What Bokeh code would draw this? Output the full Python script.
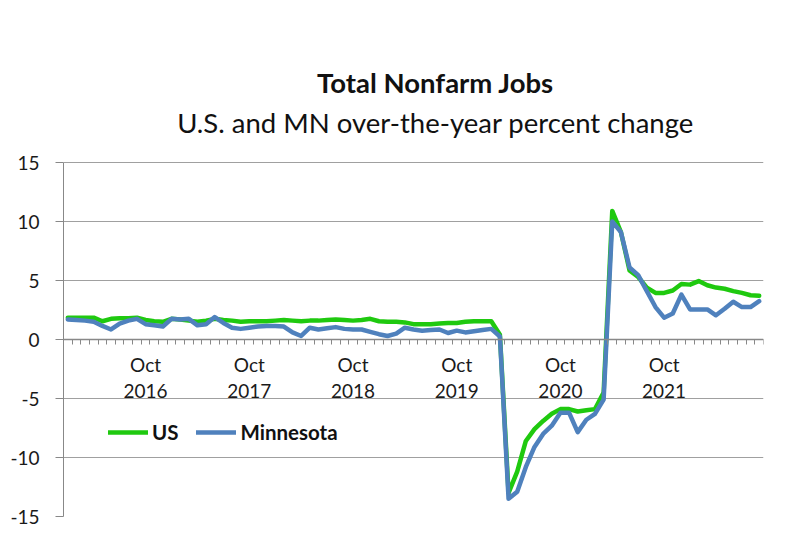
from bokeh.plotting import figure
from bokeh.models import (Range1d, LinearAxis, FixedTicker, Label, Legend, LegendItem, Grid)
from bokeh.embed import file_html
from bokeh.resources import INLINE

# ---------------- data ----------------
months = [f"{y}-{m:02d}" for y in range(2016, 2023) for m in range(1, 13)][:81]

us = [1.85, 1.85, 1.85, 1.85, 1.55, 1.75, 1.8, 1.8, 1.85, 1.65, 1.55, 1.5,
      1.75, 1.7, 1.6, 1.5, 1.6, 1.75, 1.65, 1.6, 1.5, 1.55, 1.55, 1.55,
      1.6, 1.65, 1.6, 1.55, 1.6, 1.6, 1.65, 1.7, 1.65, 1.6, 1.65, 1.75,
      1.55, 1.5, 1.5, 1.45, 1.3, 1.3, 1.3, 1.35, 1.4, 1.4, 1.5, 1.55,
      1.55, 1.55, 0.4, -13.0, -11.2, -8.6, -7.6, -6.9, -6.3, -5.9, -5.9, -6.1,
      -6.0, -5.9, -4.5, 10.9, 9.1, 5.85, 5.3, 4.4, 3.95, 3.95, 4.15, 4.7,
      4.65, 4.95, 4.6, 4.4, 4.3, 4.1, 3.95, 3.75, 3.7]

mn = [1.7, 1.65, 1.6, 1.5, 1.15, 0.85, 1.35, 1.6, 1.75, 1.3, 1.2, 1.1,
      1.75, 1.7, 1.75, 1.2, 1.3, 1.9, 1.4, 1.0, 0.9, 1.0, 1.1, 1.15,
      1.15, 1.1, 0.6, 0.3, 1.0, 0.85, 0.95, 1.05, 0.9, 0.85, 0.85, 0.65,
      0.45, 0.3, 0.5, 1.0, 0.85, 0.75, 0.8, 0.85, 0.55, 0.75, 0.6, 0.7,
      0.8, 0.9, 0.25, -13.5, -12.9, -10.8, -9.1, -8.0, -7.3, -6.2, -6.2, -7.85,
      -6.8, -6.3, -5.1, 10.0, 9.1, 6.1, 5.45, 4.1, 2.75, 1.85, 2.2, 3.8,
      2.55, 2.55, 2.55, 2.05, 2.6, 3.2, 2.75, 2.75, 3.25]

tick_months = ["2016-10", "2017-10", "2018-10", "2019-10", "2020-10", "2021-10"]
tick_labels = ["Oct\n2016", "Oct\n2017", "Oct\n2018", "Oct\n2019", "Oct\n2020", "Oct\n2021"]

y_ticks = [-15, -10, -5, 0, 5, 10, 15]
y_tick_labels = ["-15", "-10", "-5", "0", "5", "10", "15"]

title_text = "Total Nonfarm Jobs"
subtitle_text = "U.S. and MN over-the-year percent change"
series_names = ["US", "Minnesota"]

# ---------------- styling / layout ----------------
FONT = "Lato"
GREEN = "#1fc90f"
BLUE = "#4f81bd"
GRAY = "#a0a0a0"
AXIS = "#888888"

Y_MIN, Y_MAX = y_ticks[0], y_ticks[-1]
AXIS_TOP_PX = 162        # page y of the top of the value axis
AXIS_BOTTOM_PX = 516     # page y of the bottom of the value axis
px_per_unit = (AXIS_BOTTOM_PX - AXIS_TOP_PX) / (Y_MAX - Y_MIN)
# frame extends to the top of the canvas so the titles can live inside it
y_top = Y_MAX + AXIS_TOP_PX / px_per_unit

x = list(range(len(months)))
tick_x = [months.index(m) for m in tick_months]

p = figure(width=784, height=532,
           x_range=Range1d(-0.5, len(months) - 0.5),
           y_range=Range1d(Y_MIN, y_top),
           output_backend="svg", toolbar_location=None,
           x_axis_location=None, y_axis_location=None,
           title=None,
           min_border_left=63, min_border_right=21,
           min_border_top=0, min_border_bottom=16)
p.outline_line_color = None
p.background_fill_color = "white"
p.border_fill_color = "white"
for gr in p.grid:
    gr.visible = False

# y axis
yaxis = LinearAxis(ticker=FixedTicker(ticks=y_ticks, minor_ticks=[]),
                   bounds=(Y_MIN, Y_MAX),
                   major_label_overrides={v: s for v, s in zip(y_ticks, y_tick_labels)})
yaxis.axis_line_color = AXIS
yaxis.major_tick_line_color = AXIS
yaxis.major_tick_out = 8
yaxis.major_tick_in = 0
yaxis.major_label_standoff = 16
yaxis.major_label_text_font = FONT
yaxis.major_label_text_font_size = "19px"
yaxis.major_label_text_color = "#1a1a1a"
p.add_layout(yaxis, "left")

p.add_layout(Grid(dimension=1, ticker=yaxis.ticker, grid_line_color=GRAY, grid_line_width=1))

# series
g = p.line(x, us, line_color=GREEN, line_width=4.5, line_join="round", line_cap="round")
b = p.line(x, mn, line_color=BLUE, line_width=4.5, line_join="round", line_cap="round")

# x axis crossing at zero
xaxis = LinearAxis(fixed_location=0,
                   ticker=FixedTicker(ticks=tick_x,
                                      minor_ticks=[i - 0.5 for i in range(len(months) + 1)]),
                   major_label_overrides={t: s for t, s in zip(tick_x, tick_labels)})
xaxis.axis_line_color = AXIS
xaxis.axis_line_width = 1.5
xaxis.major_tick_line_color = None
xaxis.major_tick_out = 0
xaxis.major_tick_in = 0
xaxis.minor_tick_line_color = AXIS
xaxis.minor_tick_out = 5
xaxis.minor_tick_in = 0
xaxis.major_label_standoff = 8
xaxis.major_label_text_font = FONT
xaxis.major_label_text_font_size = "19px"
xaxis.major_label_text_color = "#1a1a1a"
xaxis.major_label_text_line_height = 1.15
p.add_layout(xaxis, "below")

# titles (screen units measured from the frame's bottom-left corner)
TITLE_CX = 435 - 63
p.add_layout(Label(text=title_text, x=TITLE_CX, y=AXIS_BOTTOM_PX - 82,
                   x_units="screen", y_units="screen",
                   text_align="center", text_baseline="alphabetic",
                   text_font=FONT, text_font_size="27.5px", text_font_style="bold",
                   text_color="#111111"))
p.add_layout(Label(text=subtitle_text, x=TITLE_CX, y=AXIS_BOTTOM_PX - 122,
                   x_units="screen", y_units="screen",
                   text_align="center", text_baseline="alphabetic",
                   text_font=FONT, text_font_size="27.5px", text_font_style="normal",
                   text_color="#111111"))

# legend
legend = Legend(items=[LegendItem(label=series_names[0], renderers=[g]),
                       LegendItem(label=series_names[1], renderers=[b])],
                orientation="horizontal", location=(45, 72),
                border_line_color=None, background_fill_alpha=0,
                label_text_font=FONT, label_text_font_style="bold",
                label_text_font_size="20.5px", label_text_color="#111111",
                glyph_width=40, glyph_height=20, label_standoff=4,
                spacing=18, padding=0, margin=0)
p.add_layout(legend)

open("out.html", "w").write(file_html(p, INLINE))
